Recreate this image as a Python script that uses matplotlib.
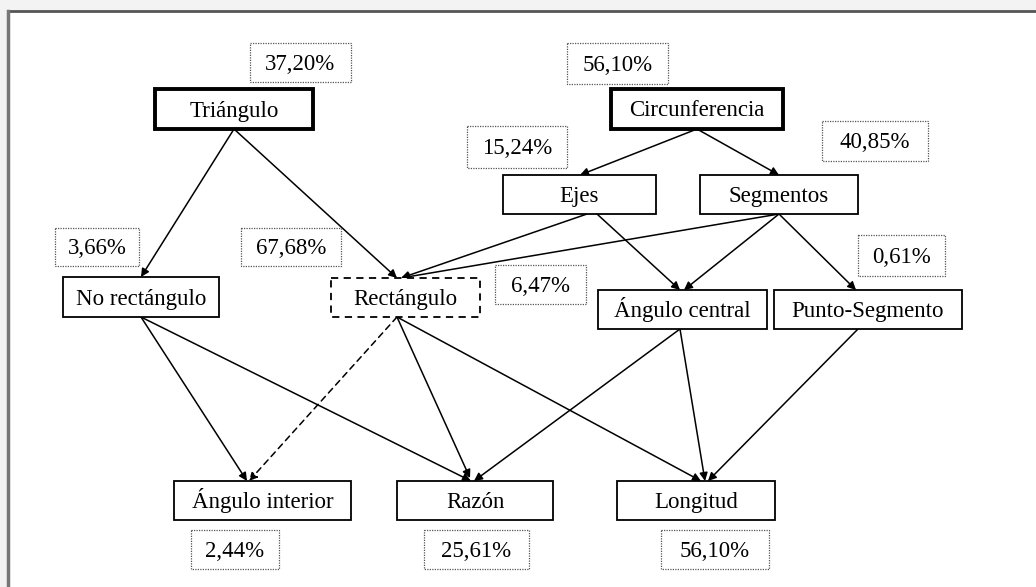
import matplotlib
matplotlib.use("Agg")
import matplotlib.pyplot as plt
from matplotlib.patches import Rectangle, FancyArrowPatch

# ---- data ----
node_names = ["Triángulo", "Circunferencia", "Ejes", "Segmentos",
              "No rectángulo", "Rectángulo", "Ángulo central", "Punto-Segmento",
              "Ángulo interior", "Razón", "Longitud"]
pct_labels = ["37,20%", "56,10%", "15,24%", "40,85%", "3,66%", "67,68%",
              "6,47%", "0,61%", "2,44%", "25,61%", "56,10%"]
edges = [("Triángulo", "No rectángulo"), ("Triángulo", "Rectángulo"),
         ("Circunferencia", "Ejes"), ("Circunferencia", "Segmentos"),
         ("Ejes", "Rectángulo"), ("Ejes", "Ángulo central"),
         ("Segmentos", "Rectángulo"), ("Segmentos", "Ángulo central"),
         ("Segmentos", "Punto-Segmento"),
         ("No rectángulo", "Ángulo interior"), ("No rectángulo", "Razón"),
         ("Rectángulo", "Ángulo interior"), ("Rectángulo", "Razón"),
         ("Rectángulo", "Longitud"),
         ("Ángulo central", "Razón"), ("Ángulo central", "Longitud"),
         ("Punto-Segmento", "Longitud")]
dashed_edges = [("Rectángulo", "Ángulo interior")]

# ---- layout (pixel coordinates: x0, x1, y0, y1) ----
node_boxes = {
    "Triángulo": (155, 313, 89, 129),
    "Circunferencia": (611, 783, 89, 129),
    "Ejes": (503, 656, 175, 214),
    "Segmentos": (700, 858, 175, 214),
    "No rectángulo": (63, 219, 277, 317),
    "Rectángulo": (331, 480, 278, 317),
    "Ángulo central": (598, 767, 290, 329),
    "Punto-Segmento": (774, 962, 290, 329),
    "Ángulo interior": (174, 351, 481, 520),
    "Razón": (397, 553, 481, 520),
    "Longitud": (617, 775, 481, 520),
}
thick_nodes = ["Triángulo", "Circunferencia"]
dashed_nodes = ["Rectángulo"]
pct_boxes = [(250, 351, 43, 82), (567, 668, 43, 84), (467, 567, 126, 168),
             (822, 928, 121, 161), (55, 139, 228, 266), (241, 341, 228, 266),
             (495, 586, 265, 304), (858, 945, 235, 276), (191, 279, 530, 569),
             (424, 529, 530, 569), (661, 769, 530, 569)]
# edge endpoints (start on source bottom, end on target top)
edge_pts = {
    ("Triángulo", "No rectángulo"): ((234, 129), (141, 277)),
    ("Triángulo", "Rectángulo"): ((234, 129), (397, 278)),
    ("Circunferencia", "Ejes"): ((697, 129), (580, 175)),
    ("Circunferencia", "Segmentos"): ((697, 129), (779, 175)),
    ("Ejes", "Rectángulo"): ((587, 214), (401, 278)),
    ("Ejes", "Ángulo central"): ((597, 214), (680, 290)),
    ("Segmentos", "Rectángulo"): ((779, 214), (401, 278)),
    ("Segmentos", "Ángulo central"): ((779, 214), (684, 290)),
    ("Segmentos", "Punto-Segmento"): ((779, 214), (856, 290)),
    ("No rectángulo", "Ángulo interior"): ((141, 317), (247, 481)),
    ("No rectángulo", "Razón"): ((141, 317), (471, 481)),
    ("Rectángulo", "Ángulo interior"): ((397, 317), (249, 481)),
    ("Rectángulo", "Razón"): ((397, 317), (470, 478)),
    ("Rectángulo", "Longitud"): ((397, 317), (701, 481)),
    ("Ángulo central", "Razón"): ((680, 329), (474, 481)),
    ("Ángulo central", "Longitud"): ((680, 329), (705, 481)),
    ("Punto-Segmento", "Longitud"): ((858, 329), (708, 481)),
}

W, H = 1036, 587
fig = plt.figure(figsize=(W / 100, H / 100), dpi=100)
ax = fig.add_axes([0, 0, 1, 1])
ax.set_xlim(0, W)
ax.set_ylim(H, 0)
ax.axis("off")

font = dict(family=["Liberation Serif", "DejaVu Serif"], fontsize=16.5, color="black")
BASE_OFF = 7.5  # baseline offset below box centre, px

# page background and frame
ax.add_patch(Rectangle((0, 0), W, H, facecolor="#f3f3f3", edgecolor="none", zorder=0))
ax.add_patch(Rectangle((8, 11), W, H, facecolor="white", edgecolor="none", zorder=0))
ax.plot([8, W], [11, 11], color="#555555", lw=2, zorder=1)
ax.plot([8, 8], [11, H], color="#777777", lw=2.5, zorder=1)

# edges
for e in edges:
    (x0, y0), (x1, y1) = edge_pts[e]
    ls = (0, (4, 3)) if e in dashed_edges else "-"
    arr = FancyArrowPatch((x0, y0), (x1, y1), arrowstyle="-|>", mutation_scale=12,
                          color="black", lw=1.1, linestyle=ls, shrinkA=0, shrinkB=0,
                          zorder=2)
    ax.add_patch(arr)

# nodes
for name in node_names:
    x0, x1, y0, y1 = node_boxes[name]
    lw = 2.8 if name in thick_nodes else 1.3
    ls = (0, (4, 3)) if name in dashed_nodes else "-"
    ax.add_patch(Rectangle((x0, y0), x1 - x0, y1 - y0, facecolor="white",
                           edgecolor="black", lw=lw, linestyle=ls, zorder=3))
    ax.text((x0 + x1) / 2, (y0 + y1) / 2 + BASE_OFF, name, ha="center", va="baseline",
            zorder=4, **font)

# percentage labels
for lab, (x0, x1, y0, y1) in zip(pct_labels, pct_boxes):
    ax.add_patch(Rectangle((x0, y0), x1 - x0, y1 - y0, facecolor="white",
                           edgecolor="#555555", lw=0.9, linestyle=(0, (1, 1)), zorder=3))
    ax.text((x0 + x1) / 2, (y0 + y1) / 2 + BASE_OFF, lab, ha="center", va="baseline",
            zorder=4, **font)

fig.savefig("out.png", dpi=100)
